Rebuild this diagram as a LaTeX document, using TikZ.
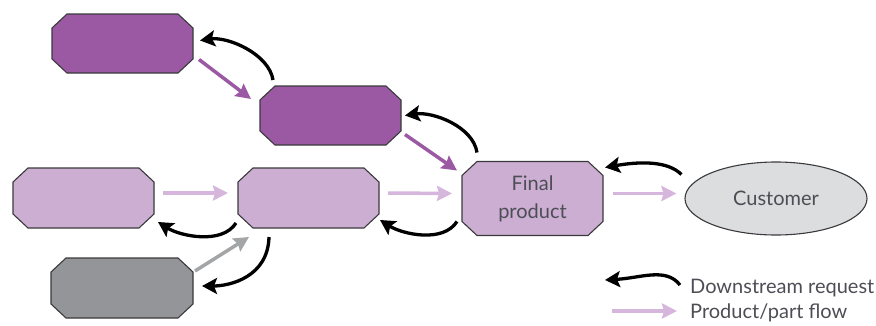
\documentclass[tikz,border=0pt]{standalone}
\usepackage{fontspec}
\setmainfont{Lato}
\usetikzlibrary{arrows.meta,calc,shapes.geometric}

\definecolor{darkplum}{HTML}{9B59A3}
\definecolor{lightplum}{HTML}{CCAED2}
\definecolor{flowpink}{HTML}{D6B6DC}
\definecolor{partgray}{HTML}{939598}
\definecolor{custgray}{HTML}{DCDDDE}
\definecolor{edgegray}{HTML}{3A3A3C}
\definecolor{txtgray}{HTML}{4D4D55}

\tikzset{
  slot/.style={rectangle, minimum width=141pt, minimum height=59pt, inner sep=0pt, outer sep=0pt},
  octline/.style={draw=edgegray, line width=1.1pt, line join=round},
  request/.style={line width=3.3pt, draw=black, -{Stealth[length=15pt,width=16pt,inset=3pt]}},
  flow/.style={line width=3.5pt, -{Stealth[length=15pt,width=15pt,inset=2pt]}},
  label/.style={font=\fontsize{20}{24}\selectfont, text=txtgray, inner sep=0pt},
}

% octagonal box around a named rectangular node
\newcommand\octbox[2]{%
  \path[octline, fill=#2]
    ($(#1.north west)+(15,0)$) -- ($(#1.north east)+(-15,0)$) --
    ($(#1.north east)+(0,-14)$) -- ($(#1.south east)+(0,14)$) --
    ($(#1.south east)+(-15,0)$) -- ($(#1.south west)+(15,0)$) --
    ($(#1.south west)+(0,14)$) -- ($(#1.north west)+(0,-14)$) -- cycle;}

\begin{document}
\begin{tikzpicture}[x=1pt,y=1pt]
\useasboundingbox (0,0) rectangle (876,325);

% suppliers and assembly stages
\node[slot] (A) at (122.5,281.5) {};
\node[slot] (B) at (330.5,209.5) {};
\node[slot, minimum height=74pt] (F) at (532.5,126.5) {};
\node[slot, minimum height=60pt] (C) at (83.5,127) {};
\node[slot, minimum height=60pt] (D) at (308.5,127) {};
\node[slot, minimum height=60pt, minimum width=142pt] (E) at (122,37) {};

\octbox{A}{darkplum}
\octbox{B}{darkplum}
\octbox{C}{lightplum}
\octbox{D}{lightplum}
\octbox{E}{partgray}
\octbox{F}{lightplum}
\node[label, align=center, font=\fontsize{20}{28}\selectfont] at (F.center) {Final\\product};

\node[ellipse, draw=edgegray, line width=1.1pt, fill=custgray,
      minimum width=182pt, minimum height=73pt, inner sep=0pt, label] (K) at (776,126.5) {Customer};

% product flow
\draw[flow, draw=darkplum] ($(A.east)+(6,-16)$) -- ($(B.north west)+(-9,-13)$);
\draw[flow, draw=darkplum] ($(B.east)+(4,-19)$) -- ($(F.north west)+(-5,-9)$);
\draw[flow, draw=flowpink] ($(C.east)+(9,5)$) -- ($(D.west)+(-10,5)$);
\draw[flow, draw=flowpink] ($(D.east)+(9,5)$) -- ($(F.west)+(-10,5)$);
\draw[flow, draw=flowpink] ($(F.east)+(10,5)$) -- ($(K.west)+(-8,5)$);
\draw[flow, draw=partgray!85] ($(E.north east)+(2,-13)$) -- ($(D.south west)+(11,-9)$);

% downstream requests
\draw[request] ($(B.north west)+(13,6)$) .. controls +(-4,26) and +(28,4) .. ($(A.east)+(7,3)$);
\draw[request] ($(F.north west)+(15,9)$) .. controls +(-4,26) and +(28,4) .. ($(B.east)+(4,0)$);
\draw[request] ($(K.west)+(-3,24)$) .. controls +(-14,14) and +(34,6) .. ($(F.north east)+(2,-6)$);
\draw[request] ($(D.south west)+(-2,5)$) .. controls +(-14,-22) and +(22,-14) .. ($(C.south east)+(4,6)$);
\draw[request] ($(F.south west)+(-5,14)$) .. controls +(-14,-22) and +(22,-14) .. ($(D.south east)+(1,8)$);
\draw[request] ($(D.south west)+(31,-9)$) .. controls +(-1,-40) and +(28,0) .. ($(E.east)+(9,2)$);

% legend
\coordinate (r1) at (680,40);
\coordinate (r2) at (605,45);
\coordinate (p1) at (612,14);
\coordinate (p2) at (677,14);
\draw[request] (r1) .. controls +(-14,18) and +(36,2) .. (r2);
\draw[flow, draw=flowpink] (p1) -- (p2);
\node[label, anchor=west] (lr) at (690,37) {Downstream request};
\node[label, anchor=west] (lp) at (690,12) {Product/part flow};
\end{tikzpicture}
\end{document}
